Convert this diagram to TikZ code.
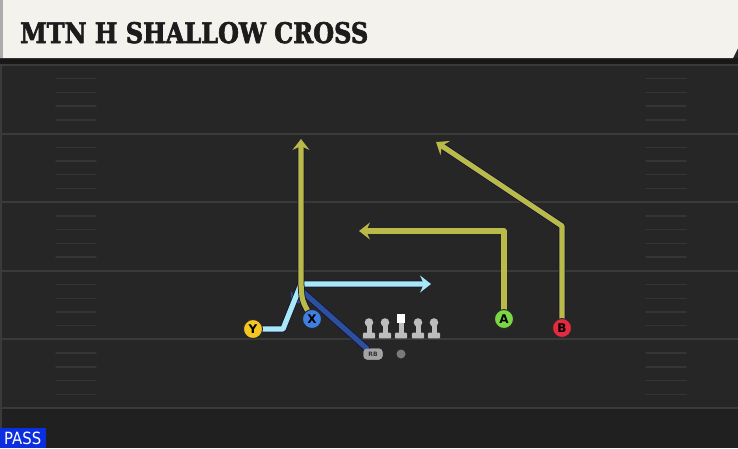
\documentclass[tikz,border=0pt]{standalone}
\usepackage{fontspec}
\newfontfamily\titlefont{DejaVu Serif}[BoldFeatures={FakeBold=2.5}]
\newfontfamily\markfont{DejaVu Sans}
\usetikzlibrary{arrows.meta}

\definecolor{field}{HTML}{262626}
\definecolor{fieldlow}{HTML}{202020}
\definecolor{yard}{HTML}{3A3A3A}
\definecolor{hash}{HTML}{353535}
\definecolor{headercream}{HTML}{F4F2EC}
\definecolor{headeredge}{HTML}{ABABAB}
\definecolor{shadowband}{HTML}{181818}
\definecolor{titleink}{HTML}{1C1C1C}
\definecolor{passblue}{HTML}{0B2FE0}
\definecolor{olive}{HTML}{B9BA48}
\definecolor{skyroute}{HTML}{A9E9F7}
\definecolor{rbblue}{HTML}{2C4F9E}
\definecolor{routeedge}{HTML}{15153A}
\definecolor{yfill}{HTML}{F3C623}
\definecolor{xfill}{HTML}{3F7FE0}
\definecolor{afill}{HTML}{7BD645}
\definecolor{bfill}{HTML}{E42A3E}
\definecolor{mangray}{HTML}{BDBDBD}
\definecolor{rbgray}{HTML}{A3A3A3}
\definecolor{qbgray}{HTML}{7A7A7A}

\tikzset{
  yardline/.style={draw=yard,line width=2pt},
  hashmark/.style={draw=hash,line width=1.4pt},
  route/.style={draw=#1,line width=5.2pt,preaction={draw=routeedge,line width=6.8pt}},
  player/.style={circle,draw=black!85,line width=0.9pt,fill=#1,minimum size=19pt,inner sep=0pt,
    font=\markfont\bfseries\fontsize{12}{12}\selectfont},
  rbmark/.style={fill=rbgray,text=black!80,rounded corners=3.5pt,minimum width=19pt,minimum height=11pt,inner sep=0pt,
    font=\markfont\bfseries\fontsize{6}{6}\selectfont},
  lineman/.pic={
    \fill[mangray] (0,-13) circle (4.3);
    \fill[mangray] (-2.5,-10) rectangle (2.5,-2.5);
    \fill[mangray,rounded corners=1pt] (-6.2,-2.8) rectangle (6.2,2.8);
  },
  centerman/.pic={
    \fill[white] (-4.3,-21.5) rectangle (4.3,-13);
    \fill[mangray] (-2.5,-13) rectangle (2.5,-2.5);
    \fill[mangray,rounded corners=1pt] (-6.2,-2.8) rectangle (6.2,2.8);
  }
}

\begin{document}
\begin{tikzpicture}[line cap=round,line join=round,>={Stealth[length=11pt,width=17pt,inset=4pt]},x=1pt,y=-1pt]
\useasboundingbox (0,0) rectangle (738,448);
% field
\fill[field] (0,0) rectangle (738,448);
\fill[fieldlow] (0,409) rectangle (738,448);
\fill[yard] (0,64) rectangle (2,448);
\foreach \k in {0,...,5}
\draw[yardline] (0,{65+68.6*\k}) -- (738,{65+68.6*\k});
\foreach \k in {0,...,4}
\foreach \j in {1,...,4}
{
\draw[hashmark] (56,{65+68.6*\k+13.72*\j}) -- (96,{65+68.6*\k+13.72*\j});
\draw[hashmark] (646,{65+68.6*\k+13.72*\j}) -- (686,{65+68.6*\k+13.72*\j});
}
% header
\fill[shadowband] (0,58) rectangle (738,64);
\fill[headercream] (0,0) -- (738,0) -- (738,48) -- (733,58) -- (0,58) -- cycle;
\fill[headeredge] (0,0) rectangle (3,58);
\node[anchor=base west,inner sep=0pt,text=titleink] (title) at (20,43)
  {\resizebox{348pt}{21pt}{\titlefont\bfseries MTN H SHALLOW CROSS}};
% players
\node[player=yfill] (Y) at (253,329) {Y};
\node[player=xfill] (X) at (312,319) {X};
\node[player=afill] (A) at (504,319) {A};
\node[player=bfill] (B) at (562,328) {B};
\node[rbmark] (RB) at (373,354) {RB};
\node[circle,fill=qbgray,minimum size=9pt,inner sep=0pt] (QB) at (401,354) {};
\foreach \x in {369,385,418,434}
\pic at (\x,335.5) {lineman};
\pic at (401,335.5) {centerman};
% route ends
\coordinate (xend) at (301,139);
\coordinate (yend) at (431,284);
\coordinate (aend) at (359,231);
\coordinate (bend) at (436,142);
\coordinate (rbend) at (291,305);
% routes
\draw[route=rbblue,->] (RB) -- (302,291) -- (rbend);
\draw[route=skyroute,->] (Y) -- (283,329) -- (301,284) -- (yend);
\draw[route=olive,->] (X) .. controls (302,300) .. (301,284) -- (xend);
\draw[route=olive,->] (A) -- (504,231) -- (aend);
\draw[route=olive,->] (B) -- (562,226) -- (bend);
% players on top
\node[player=yfill] at (Y) {Y};
\node[player=xfill] at (X) {X};
\node[player=afill] at (A) {A};
\node[player=bfill] at (B) {B};
\node[rbmark] at (RB) {RB};
% play type
\fill[passblue] (0,428) rectangle (46,448);
\node[anchor=base west,inner sep=0pt,text=white] (pass) at (4,444.5)
  {\resizebox{37pt}{12.5pt}{\markfont PASS}};
\end{tikzpicture}
\end{document}
